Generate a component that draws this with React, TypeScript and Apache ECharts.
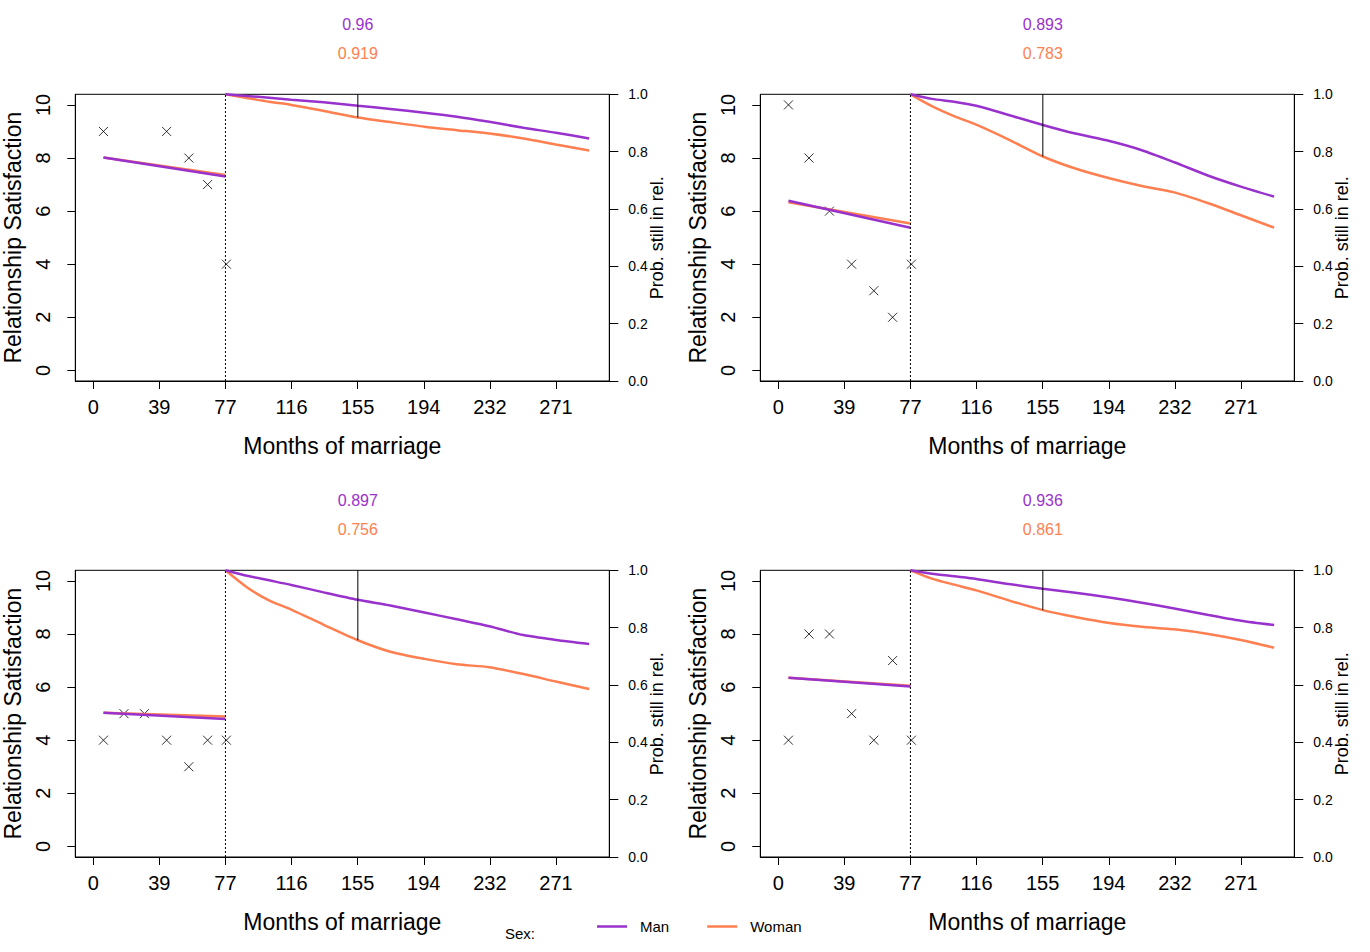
import React, { useEffect, useRef } from "react";
import * as echarts from "echarts";

const MAN_COLOR = "#9932CC";
const WOMAN_COLOR = "#FF7F50";
const FONT = "'Liberation Sans', Arial, sans-serif";

// Axis ticks
const xTickValues = [0, 38.725, 77.45, 116.175, 154.9, 193.625, 232.35, 271.075];
const leftTickValues = [0, 2, 4, 6, 8, 10];
const rightTickValues = [0, 0.2, 0.4, 0.6, 0.8, 1.0];

// Observed satisfaction (crosses)
const crossMonths = [6, 18, 30, 43, 56, 67, 78];
const crossP1 = [9, null, null, 9, 8, 7, 4];
const crossP2 = [10, 8, 6, 4, 3, 2, 4];
const crossP3 = [4, 5, 5, 4, 3, 4, 4];
const crossP4 = [4, 8, 8, 5, 4, 7, 4];

// Predicted satisfaction (start, end)
const satMonths = [6, 77.45];
const satManP1 = [8.02, 7.3];
const satWomanP1 = [8.02, 7.36];
const satManP2 = [6.39, 5.37];
const satWomanP2 = [6.33, 5.53];
const satManP3 = [5.03, 4.8];
const satWomanP3 = [5.03, 4.89];
const satManP4 = [6.35, 6.02];
const satWomanP4 = [6.35, 6.05];

// Survival curves
const survMonths = [77.45, 90, 103, 116, 135, 155, 174, 194, 213, 232, 252, 271, 290.5];
const survManP1 = [1.0, 0.994, 0.988, 0.981, 0.972, 0.96, 0.949, 0.936, 0.922, 0.904, 0.883, 0.866, 0.846];
const survWomanP1 = [1.0, 0.987, 0.974, 0.963, 0.942, 0.919, 0.903, 0.887, 0.875, 0.863, 0.846, 0.825, 0.804];
const survManP2 = [1.0, 0.984, 0.974, 0.96, 0.928, 0.893, 0.863, 0.837, 0.805, 0.763, 0.716, 0.678, 0.643];
const survWomanP2 = [1.0, 0.959, 0.924, 0.894, 0.842, 0.783, 0.741, 0.707, 0.68, 0.658, 0.62, 0.578, 0.535];
const survManP3 = [1.0, 0.981, 0.965, 0.949, 0.923, 0.897, 0.877, 0.853, 0.829, 0.805, 0.774, 0.757, 0.743];
const survWomanP3 = [1.0, 0.941, 0.895, 0.863, 0.81, 0.756, 0.716, 0.691, 0.672, 0.662, 0.638, 0.612, 0.586];
const survManP4 = [1.0, 0.988, 0.979, 0.97, 0.952, 0.936, 0.922, 0.905, 0.887, 0.867, 0.844, 0.824, 0.809];
const survWomanP4 = [1.0, 0.971, 0.95, 0.93, 0.895, 0.861, 0.837, 0.816, 0.803, 0.794, 0.778, 0.757, 0.73];

// Probability at the marked month
const markMonth = 155;
const cutMonth = 77.45;
const probManAtMark = [0.96, 0.893, 0.897, 0.936];
const probWomanAtMark = [0.919, 0.783, 0.756, 0.861];

const crosses = [crossP1, crossP2, crossP3, crossP4];
const satMan = [satManP1, satManP2, satManP3, satManP4];
const satWoman = [satWomanP1, satWomanP2, satWomanP3, satWomanP4];
const survMan = [survManP1, survManP2, survManP3, survManP4];
const survWoman = [survWomanP1, survWomanP2, survWomanP3, survWomanP4];

const zip = (xs: number[], ys: (number | null)[]) =>
  xs.map((x, i) => [x, ys[i]]).filter((p) => p[1] !== null);

const CROSS = "path://M0,0L10,10M10,0L0,10";

const axisLine = { show: true, onZero: false, lineStyle: { color: "#000", width: 1 } };

export default function App() {
  const ref = useRef<HTMLDivElement>(null);

  useEffect(() => {
    if (!ref.current) return;
    const chart = echarts.init(ref.current, null, { renderer: "svg" });

    const grids: any[] = [];
    const xAxes: any[] = [];
    const yAxes: any[] = [];
    const series: any[] = [];
    const layout: { left: number; top: number }[] = [];

    for (let i = 0; i < 4; i++) {
      const c = i % 2;
      const r = Math.floor(i / 2);
      const left = 75.3 + c * 685;
      const top = 94.3 + r * 476;
      layout.push({ left, top });
      grids.push({
        left,
        top,
        width: 534,
        height: 286.7,
        show: true,
        containLabel: false,
        outerBoundsMode: "none",
        borderColor: "#000",
        borderWidth: 1,
        backgroundColor: "transparent",
      });
      xAxes.push({
        type: "value",
        gridIndex: i,
        min: -10.5,
        max: 302.3,
        axisLine,
        splitLine: { show: false },
        axisTick: {
          show: true,
          customValues: xTickValues,
          length: 8,
          lineStyle: { color: "#000", width: 1 },
        },
        axisLabel: {
          customValues: xTickValues,
          formatter: (v: number) => String(Math.round(v)),
          fontSize: 20,
          color: "#000",
          fontFamily: FONT,
          margin: 16,
          showMinLabel: true,
          showMaxLabel: true,
        },
        name: "Months of marriage",
        nameLocation: "middle",
        nameGap: 53,
        nameMoveOverlap: false,
        nameTextStyle: { fontSize: 23, color: "#000", fontFamily: FONT },
      });
      yAxes.push({
        type: "value",
        gridIndex: i,
        position: "left",
        min: -0.4,
        max: 10.4,
        axisLine,
        splitLine: { show: false },
        axisTick: {
          show: true,
          customValues: leftTickValues,
          length: 8,
          lineStyle: { color: "#000", width: 1 },
        },
        axisLabel: {
          customValues: leftTickValues,
          rotate: 90,
          fontSize: 20,
          color: "#000",
          fontFamily: FONT,
          margin: 22,
          showMinLabel: true,
          showMaxLabel: true,
        },
        name: "Relationship Satisfaction",
        nameLocation: "middle",
        nameGap: 51,
        nameMoveOverlap: false,
        nameTextStyle: { fontSize: 23, color: "#000", fontFamily: FONT },
      });
      yAxes.push({
        type: "value",
        gridIndex: i,
        position: "right",
        min: 0,
        max: 1,
        axisLine,
        splitLine: { show: false },
        axisTick: {
          show: true,
          customValues: rightTickValues,
          length: 9,
          lineStyle: { color: "#000", width: 1 },
        },
        axisLabel: {
          customValues: rightTickValues,
          formatter: (v: number) => v.toFixed(1),
          fontSize: 14,
          color: "#000",
          fontFamily: FONT,
          margin: 19,
          showMinLabel: true,
          showMaxLabel: true,
        },
        name: "Prob. still in rel.",
        nameLocation: "middle",
        nameGap: 39,
        nameMoveOverlap: false,
        nameTextStyle: { fontSize: 18, color: "#000", fontFamily: FONT },
      });

      const yl = 2 * i;
      const yr = 2 * i + 1;
      const lineBase = {
        type: "line",
        xAxisIndex: i,
        showSymbol: false,
        symbol: "none",
        silent: true,
      };
      series.push({
        ...lineBase,
        name: "Woman",
        yAxisIndex: yl,
        data: zip(satMonths, satWoman[i]),
        lineStyle: { color: WOMAN_COLOR, width: 2.5 },
        itemStyle: { color: WOMAN_COLOR },
      });
      series.push({
        ...lineBase,
        name: "Man",
        yAxisIndex: yl,
        data: zip(satMonths, satMan[i]),
        lineStyle: { color: MAN_COLOR, width: 2.5 },
        itemStyle: { color: MAN_COLOR },
      });
      series.push({
        ...lineBase,
        name: "Woman",
        yAxisIndex: yr,
        smooth: 0.25,
        data: zip(survMonths, survWoman[i]),
        lineStyle: { color: WOMAN_COLOR, width: 2.5 },
        itemStyle: { color: WOMAN_COLOR },
      });
      series.push({
        ...lineBase,
        name: "Man",
        yAxisIndex: yr,
        smooth: 0.25,
        data: zip(survMonths, survMan[i]),
        lineStyle: { color: MAN_COLOR, width: 2.5 },
        itemStyle: { color: MAN_COLOR },
      });
      series.push({
        ...lineBase,
        name: "cut",
        yAxisIndex: yr,
        data: [
          [cutMonth, 0],
          [cutMonth, 1],
        ],
        lineStyle: { color: "#000", width: 1, type: [2, 2] },
      });
      series.push({
        ...lineBase,
        name: "mark",
        yAxisIndex: yr,
        data: [
          [markMonth, 1],
          [markMonth, probWomanAtMark[i]],
        ],
        lineStyle: { color: "#000", width: 1 },
      });
      series.push({
        type: "scatter",
        name: "observed",
        xAxisIndex: i,
        yAxisIndex: yl,
        data: zip(crossMonths, crosses[i]),
        symbol: CROSS,
        symbolSize: 9,
        silent: true,
        itemStyle: { color: "rgba(0,0,0,0)", borderColor: "#000", borderWidth: 1 },
      });
    }

    chart.setOption({
      animation: false,
      backgroundColor: "#fff",
      textStyle: { fontFamily: FONT },
      grid: grids,
      xAxis: xAxes,
      yAxis: yAxes,
      series,
      legend: {
        data: [
          { name: "Man", icon: "rect" },
          { name: "Woman", icon: "rect" },
        ],
        left: 597,
        top: 919,
        padding: 0,
        itemWidth: 30,
        itemHeight: 2.5,
        itemGap: 38,
        selectedMode: false,
        textStyle: { fontSize: 15, color: "#000", fontFamily: FONT, padding: [0, 0, 0, 8] },
      },
    });

    const graphics: any[] = [
      {
        type: "text",
        left: 505,
        top: 926,
        style: { text: "Sex:", fontSize: 15, fill: "#000", fontFamily: FONT },
      },
    ];
    for (let i = 0; i < 4; i++) {
      const px = chart.convertToPixel({ xAxisIndex: i }, markMonth) as number;
      const top = layout[i].top;
      graphics.push({
        type: "text",
        x: px,
        y: top - 70.3,
        style: {
          text: String(probManAtMark[i]),
          fontSize: 16,
          fill: MAN_COLOR,
          fontFamily: FONT,
          align: "center",
          verticalAlign: "middle",
        },
      });
      graphics.push({
        type: "text",
        x: px,
        y: top - 41.3,
        style: {
          text: String(probWomanAtMark[i]),
          fontSize: 16,
          fill: WOMAN_COLOR,
          fontFamily: FONT,
          align: "center",
          verticalAlign: "middle",
        },
      });
    }
    chart.setOption({ graphic: graphics });

    return () => chart.dispose();
  }, []);

  return (
    <div
      ref={ref}
      style={{ position: "fixed", left: 0, top: 0, width: 1370, height: 952, background: "#fff" }}
    />
  );
}
